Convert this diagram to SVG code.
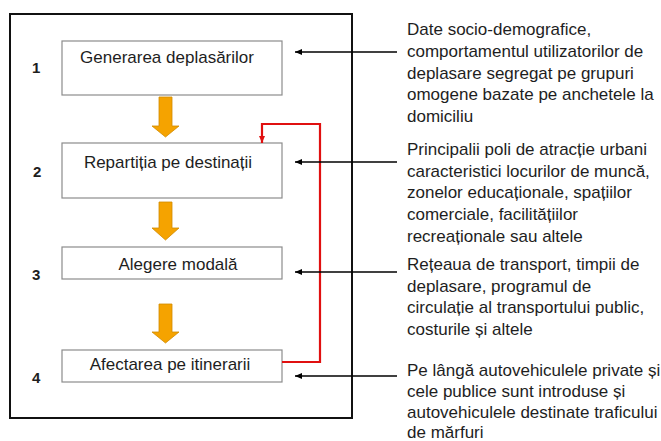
<svg xmlns="http://www.w3.org/2000/svg" width="661" height="441" viewBox="0 0 661 441">
<style>
.box{fill:#fff;stroke:#8c8c8c;stroke-width:1.2}
.lbl{font-family:"Liberation Sans",Arial,sans-serif;font-size:17px;fill:#1e1e1e;text-anchor:middle}
.num{font-family:"Liberation Sans",Arial,sans-serif;font-size:15px;font-weight:bold;fill:#1e1e1e}
.desc{font-family:"Liberation Sans",Arial,sans-serif;font-size:17px;fill:#1e1e1e}
.blk{stroke:#000;stroke-width:1.6;fill:none;marker-end:url(#ah)}
.red{stroke:#e01010;stroke-width:2.2;fill:none;marker-end:url(#ahr)}
.down{fill:#f5a300;stroke:#d08a00;stroke-width:0.8}
</style>
<defs>
<marker id="ah" markerUnits="userSpaceOnUse" markerWidth="8" markerHeight="8" refX="7" refY="4" orient="auto">
<path d="M0,1 L7,4 L0,7 Z" fill="#000"/>
</marker>
<marker id="ahr" markerUnits="userSpaceOnUse" markerWidth="8" markerHeight="8" refX="7" refY="4" orient="auto">
<path d="M0,1 L7,4 L0,7 Z" fill="#e01010"/>
</marker>
</defs>
<rect width="661" height="441" fill="#fff"/>
<rect id="frame" x="10" y="14" width="342" height="404" fill="none" stroke="#111" stroke-width="2"/>
<g id="node1">
<rect class="box" x="62" y="41" width="220" height="54"/>
<text class="lbl" x="167" y="63">Generarea deplasărilor</text>
<text class="num" x="32" y="73">1</text>
</g>
<g id="node2">
<rect class="box" x="62" y="143" width="220" height="55"/>
<text class="lbl" x="168" y="168">Repartiția pe destinații</text>
<text class="num" x="33" y="177">2</text>
</g>
<g id="node3">
<rect class="box" x="62" y="247" width="220" height="32"/>
<text class="lbl" x="178" y="270">Alegere modală</text>
<text class="num" x="32" y="280">3</text>
</g>
<g id="node4">
<rect class="box" x="62" y="350" width="220" height="32"/>
<text class="lbl" x="170" y="370">Afectarea pe itinerarii</text>
<text class="num" x="32" y="383">4</text>
</g>
<g id="desc1">
<text class="desc" x="407" y="35"><tspan x="407" y="35">Date socio-demografice,</tspan><tspan x="407" y="56.75">comportamentul utilizatorilor de</tspan><tspan x="407" y="78.5">deplasare segregat pe grupuri</tspan><tspan x="407" y="100.25">omogene bazate pe anchetele la</tspan><tspan x="407" y="122">domiciliu</tspan></text>
</g>
<g id="desc2">
<text class="desc" x="407" y="155"><tspan x="407" y="155">Principalii poli de atracție urbani</tspan><tspan x="407" y="176.7">caracteristici locurilor de muncă,</tspan><tspan x="407" y="198.3">zonelor educaționale, spațiilor</tspan><tspan x="407" y="220">comerciale, facilitățiilor</tspan><tspan x="407" y="241.7">recreaționale sau altele</tspan></text>
</g>
<g id="desc3">
<text class="desc" x="407" y="270"><tspan x="407" y="270">Rețeaua de transport, timpii de</tspan><tspan x="407" y="291.7">deplasare, programul de</tspan><tspan x="407" y="313.4">circulație al transportului public,</tspan><tspan x="407" y="335">costurile și altele</tspan></text>
</g>
<g id="desc4">
<text class="desc" x="407" y="375.5"><tspan x="407" y="375.5">Pe lângă autovehiculele private și</tspan><tspan x="407" y="396.5">cele publice sunt introduse și</tspan><tspan x="407" y="417.5">autovehiculele destinate traficului</tspan><tspan x="407" y="437.5">de mărfuri</tspan></text>
</g>
<g id="connectors">
<path class="down" d="M159,97 H172 V126 H179 L165.5,137 L152,126 H159 Z"/>
<path class="down" d="M159,202 H172 V228 H179 L165.5,240 L152,228 H159 Z"/>
<path class="down" d="M159,304 H172 V332 H179 L165.5,343 L152,332 H159 Z"/>
<path class="red" d="M282,362 H320 V124 H262 V143"/>
<path class="blk" d="M397,52 H295"/>
<path class="blk" d="M397,162 H295"/>
<path class="blk" d="M397,272 H295"/>
<path class="blk" d="M397,376 H295"/>
</g>
</svg>
